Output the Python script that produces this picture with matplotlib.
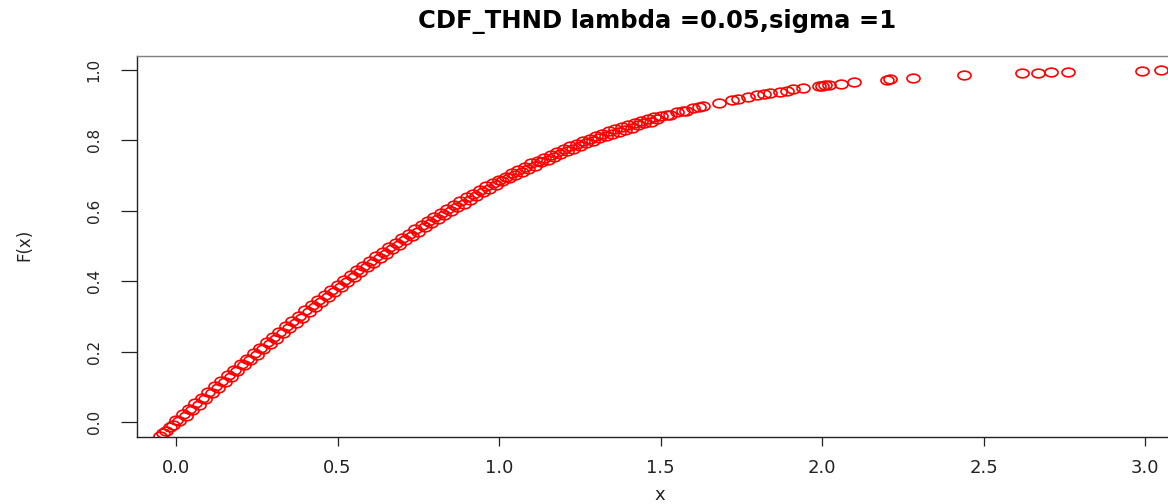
import numpy as np
import matplotlib
matplotlib.use("Agg")
from matplotlib import pyplot as plt
from matplotlib.path import Path
from matplotlib.transforms import Affine2D

# sample points of the CDF (x, F(x))
x_vals = [
    -0.05, -0.04, -0.03, -0.02, -0.01, 0.00, 0.01, 0.02, 0.03, 0.04,
    0.05, 0.06, 0.07, 0.08, 0.09, 0.10, 0.11, 0.12, 0.13, 0.14,
    0.15, 0.16, 0.17, 0.18, 0.19, 0.20, 0.21, 0.22, 0.23, 0.24,
    0.25, 0.26, 0.27, 0.28, 0.29, 0.30, 0.31, 0.32, 0.33, 0.34,
    0.35, 0.36, 0.37, 0.38, 0.39, 0.40, 0.41, 0.42, 0.43, 0.44,
    0.45, 0.46, 0.47, 0.48, 0.49, 0.50, 0.51, 0.52, 0.53, 0.54,
    0.55, 0.56, 0.57, 0.58, 0.59, 0.60, 0.61, 0.62, 0.63, 0.64,
    0.65, 0.66, 0.67, 0.68, 0.69, 0.70, 0.71, 0.72, 0.73, 0.74,
    0.75, 0.76, 0.77, 0.78, 0.79, 0.80, 0.81, 0.82, 0.83, 0.84,
    0.85, 0.86, 0.87, 0.88, 0.89, 0.90, 0.91, 0.92, 0.93, 0.94,
    0.95, 0.96, 0.97, 0.98, 0.99, 1.00,
    1.01, 1.02, 1.03, 1.04, 1.05, 1.06, 1.07, 1.08, 1.09, 1.10,
    1.11, 1.12, 1.13, 1.14, 1.15, 1.16, 1.17, 1.18, 1.19, 1.20,
    1.21, 1.22, 1.23, 1.24, 1.25, 1.26, 1.27, 1.28, 1.29, 1.30,
    1.31, 1.32, 1.33, 1.34, 1.35, 1.36, 1.37, 1.38, 1.39, 1.40,
    1.41, 1.42, 1.43, 1.44, 1.45, 1.46, 1.47, 1.48, 1.49, 1.50,
    1.52, 1.53, 1.55, 1.57, 1.58, 1.60, 1.62, 1.63,
    1.68, 1.72, 1.74, 1.77, 1.80, 1.82, 1.84, 1.87, 1.89, 1.91,
    1.94, 1.99, 2.00, 2.01, 2.02, 2.06, 2.10, 2.20, 2.21, 2.28,
    2.44, 2.62, 2.67, 2.71, 2.76, 2.99, 3.05,
]
F_vals = [
    -0.038, -0.030, -0.025, -0.014, -0.009, 0.006, 0.002, 0.022, 0.018, 0.038,
    0.034, 0.054, 0.050, 0.070, 0.066, 0.086, 0.082, 0.102, 0.098, 0.117,
    0.113, 0.133, 0.129, 0.149, 0.145, 0.164, 0.161, 0.180, 0.176, 0.196,
    0.191, 0.211, 0.207, 0.227, 0.222, 0.242, 0.237, 0.257, 0.252, 0.272,
    0.267, 0.287, 0.282, 0.302, 0.297, 0.317, 0.312, 0.332, 0.327, 0.346,
    0.341, 0.360, 0.356, 0.375, 0.370, 0.389, 0.384, 0.403, 0.398, 0.417,
    0.412, 0.431, 0.425, 0.444, 0.439, 0.457, 0.452, 0.471, 0.465, 0.484,
    0.478, 0.497, 0.491, 0.509, 0.504, 0.522, 0.516, 0.534, 0.529, 0.547,
    0.541, 0.559, 0.553, 0.571, 0.565, 0.582, 0.576, 0.594, 0.588, 0.605,
    0.599, 0.616, 0.610, 0.627, 0.620, 0.638, 0.631, 0.648, 0.642, 0.659,
    0.652, 0.669, 0.662, 0.679, 0.672, 0.687,
    0.683, 0.697, 0.692, 0.707, 0.701, 0.716, 0.710, 0.725, 0.719, 0.734,
    0.728, 0.742, 0.737, 0.751, 0.745, 0.759, 0.753, 0.767, 0.761, 0.775,
    0.769, 0.783, 0.776, 0.790, 0.784, 0.797, 0.791, 0.804, 0.798, 0.811,
    0.805, 0.818, 0.811, 0.825, 0.818, 0.831, 0.824, 0.837, 0.830, 0.843,
    0.836, 0.849, 0.842, 0.855, 0.848, 0.860, 0.853, 0.865, 0.859, 0.869,
    0.873, 0.872, 0.880, 0.882, 0.883, 0.891, 0.894, 0.897,
    0.907, 0.915, 0.918, 0.922, 0.928, 0.931, 0.934, 0.938, 0.941, 0.944,
    0.947, 0.953, 0.954, 0.956, 0.957, 0.960, 0.964, 0.972, 0.973, 0.977,
    0.985, 0.991, 0.992, 0.993, 0.994, 0.997, 0.998,
]

x_ticks = [0.0, 0.5, 1.0, 1.5, 2.0, 2.5, 3.0]
y_ticks = [0.0, 0.2, 0.4, 0.6, 0.8, 1.0]
title = "CDF_THND lambda =0.05,sigma =1"

plt.rcParams['font.family'] = ['DejaVu Sans']

fig = plt.figure(figsize=(11.68, 5.04), dpi=100)
# plot region runs past the right edge of the image
ax = fig.add_axes([137/1168, 67/504, (1179-137)/1168, 381/504])

# open circles, a bit wider than tall
circ = Path.unit_circle()
ell = circ.transformed(Affine2D().scale(1.5, 1.0))
ax.plot(x_vals, F_vals, linestyle='none', marker=ell, markersize=9.4,
        markerfacecolor='none', markeredgecolor='#ff0000', markeredgewidth=1.2)

ax.set_xlim(-0.121, 3.105)
ax.set_ylim(-0.042, 1.039)

ax.set_xticks(x_ticks)
ax.set_xticklabels(["%.1f" % v for v in x_ticks])
ax.set_yticks(y_ticks)
ax.set_yticklabels(["%.1f" % v for v in y_ticks], rotation=90, va='center')

ax.tick_params(axis='x', direction='out', length=6.5, width=0.9,
               pad=9, labelsize=13, colors='#222222')
ax.tick_params(axis='y', direction='out', length=11.5, width=0.9,
               pad=14, labelsize=11, colors='#222222')

for s in ax.spines.values():
    s.set_color('#222222')
    s.set_linewidth(1.0)
ax.spines['top'].set_color('#808080')

fig.text(657/1168, 1 - 22/504, title, ha='center', va='center',
         fontsize=17.5, fontweight='bold', color='black')
fig.text(660/1168, 1 - 495/504, "x", ha='center', va='center',
         fontsize=13, color='#222222')
fig.text(24/1168, 1 - 245/504, "F(x)", ha='center', va='center',
         rotation=90, fontsize=12, color='#222222')

plt.savefig("out.png", dpi=100)
